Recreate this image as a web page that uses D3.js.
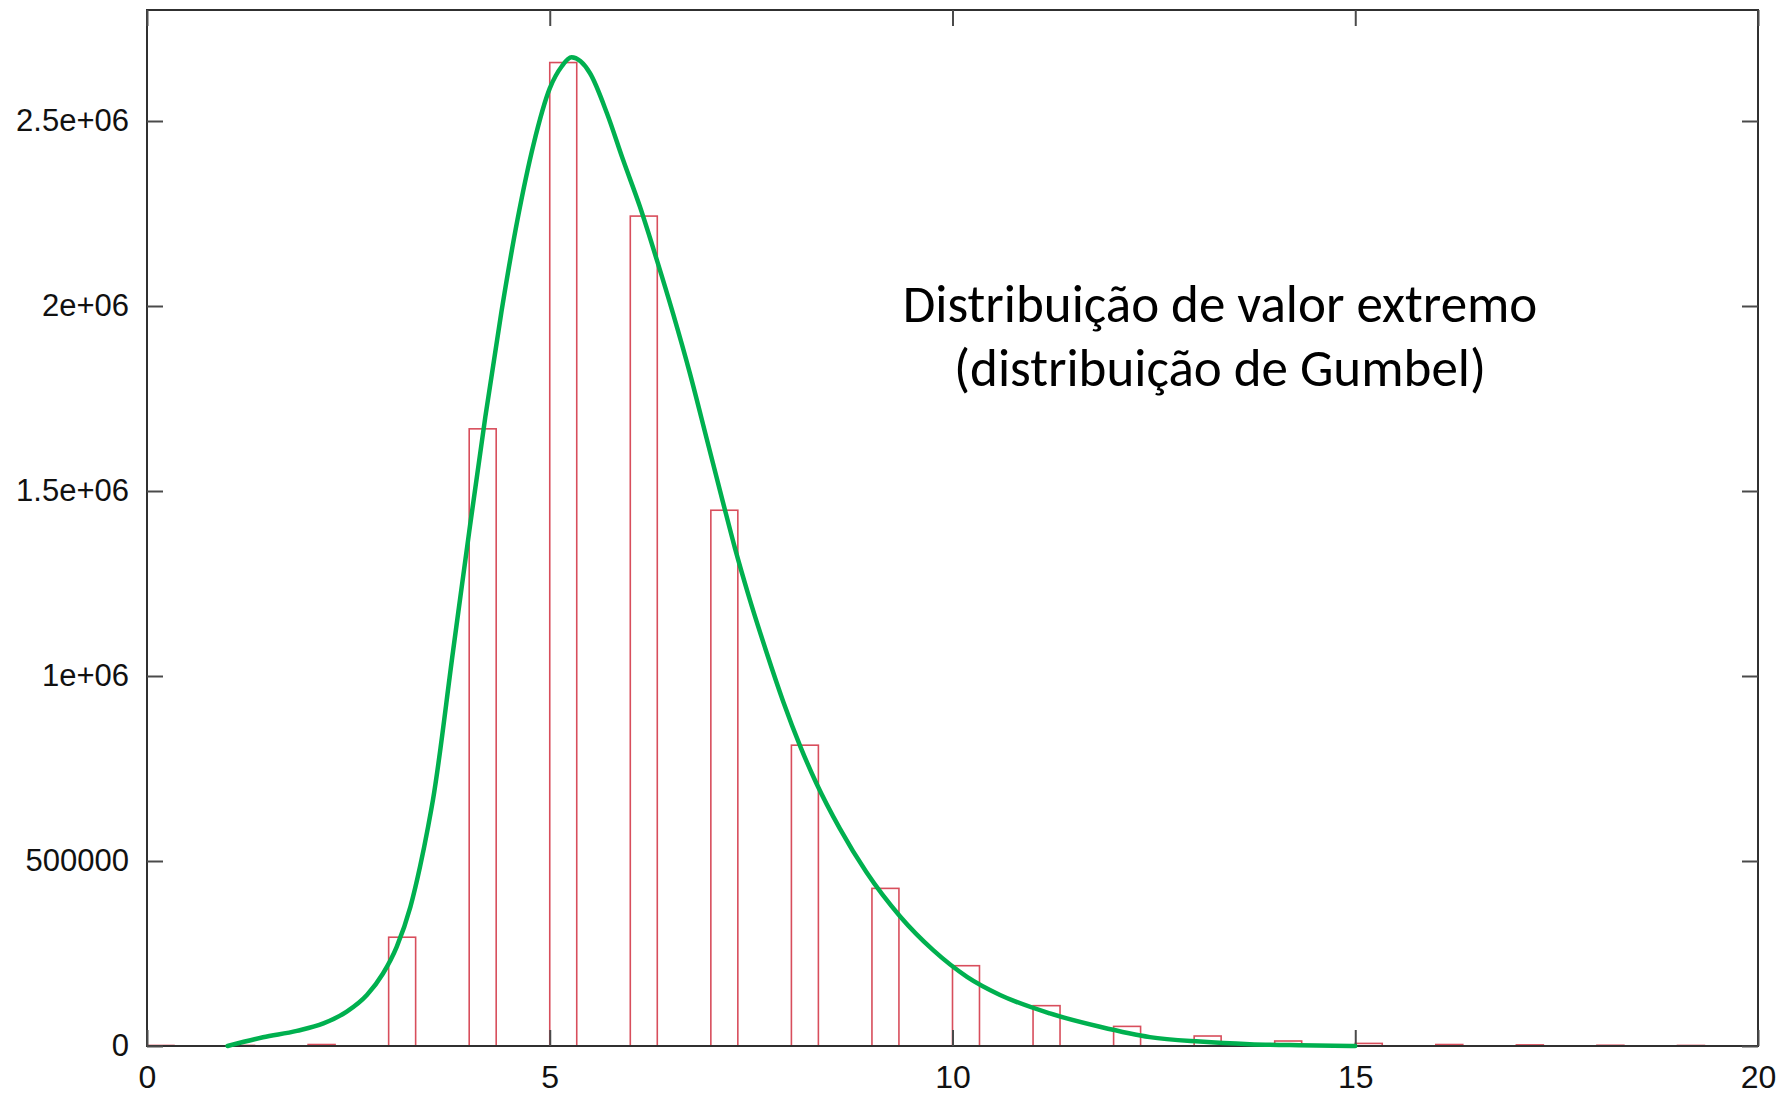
<!DOCTYPE html>
<html>
<head>
<meta charset="utf-8">
<script src="https://cdn.jsdelivr.net/npm/d3@7"></script>
<style>
  html, body { margin: 0; padding: 0; background: #ffffff; }
  svg { display: block; }
</style>
</head>
<body>
<svg id="chart" width="1790" height="1096"></svg>
<script>
// Histogram of extreme values: one box per integer bin
const binStarts = [0, 1, 2, 3, 4, 5, 6, 7, 8, 9, 10, 11, 12, 13, 14, 15, 16, 17, 18, 19];
const binCounts = [1500, 1500, 4000, 294000, 1668000, 2658000, 2243000, 1448000, 813000, 426000,
                   217000, 109000, 53000, 27000, 13500, 7000, 4000, 3000, 2000, 1500];

// Fitted Gumbel density (scaled to the counts), sampled along x
const curveX = [1.00, 1.44, 1.86, 2.19, 2.48, 2.73, 2.93, 3.10, 3.27, 3.39, 3.49, 3.55, 3.80,
                4.00, 4.20, 4.40, 4.60, 4.80, 5.00, 5.15, 5.27, 5.50, 5.71, 5.91, 6.12, 6.33, 6.53,
                6.74, 6.95, 7.15, 7.30, 7.465, 7.69, 7.90, 8.11, 8.31, 8.60, 8.93, 9.35, 9.76, 10.18,
                10.59, 11.21, 11.83, 12.45, 13.07, 13.69, 14.30, 15.00];
const curveY = [0, 23500, 41000, 61000, 93000, 138000, 196000, 268000, 376000, 485000, 593000, 665000,
                1068000, 1390000, 1700000, 1984000, 2234000, 2438000, 2588000, 2648000, 2672000,
                2629000, 2521000, 2395000, 2268000, 2124000, 1980000, 1818000, 1640000, 1470000,
                1345000, 1220000, 1065000, 930000, 810000, 710000, 588000, 470000, 350000, 259000,
                187000, 138000, 88000, 52000, 24000, 12000, 5000, 2000, 0];

// Axis ticks and their labels
const xTickValues = [0, 5, 10, 15, 20];
const xTickLabels = ["0", "5", "10", "15", "20"];
const yTickValues = [0, 500000, 1000000, 1500000, 2000000, 2500000];
const yTickLabels = ["0", "500000", "1e+06", "1.5e+06", "2e+06", "2.5e+06"];

const titleLines = ["Distribuição de valor extremo", "(distribuição de Gumbel)"];

const plot = { left: 147, right: 1758, top: 10, bottom: 1046 };
const boxWidth = 0.335;
const tickLen = 16;

const svg = d3.select("#chart");
svg.append("rect").attr("width", 1790).attr("height", 1096).attr("fill", "#ffffff");

const x = d3.scaleLinear().domain([0, 20]).range([plot.left, plot.right]);
const y = d3.scaleLinear().domain([0, 2800000]).range([plot.bottom, plot.top]);

// Histogram boxes (outlined)
svg.append("g")
  .selectAll("rect")
  .data(binStarts.map((b, i) => ({ b, v: binCounts[i] })))
  .join("rect")
  .attr("x", d => x(d.b))
  .attr("width", d => x(d.b + boxWidth) - x(d.b))
  .attr("y", d => y(d.v))
  .attr("height", d => y(0) - y(d.v))
  .attr("fill", "none")
  .attr("stroke", "#d84e5c")
  .attr("stroke-width", 1.6);

// Border frame
svg.append("rect")
  .attr("x", plot.left).attr("y", plot.top)
  .attr("width", plot.right - plot.left).attr("height", plot.bottom - plot.top)
  .attr("fill", "none").attr("stroke", "#303030").attr("stroke-width", 2);

const tickFont = "'Liberation Sans', Arial, Helvetica, sans-serif";

function styleAxis(size) {
  return g => {
    g.select(".domain").remove();
    g.selectAll(".tick line").attr("stroke", "#4a4a4a").attr("stroke-width", 2);
    g.selectAll(".tick text").attr("fill", "#111111")
      .style("font-family", tickFont).style("font-size", size + "px");
  };
}

// Left axis with labels, ticks pointing inward
svg.append("g")
  .attr("transform", `translate(${plot.left},0)`)
  .call(d3.axisLeft(y).tickValues(yTickValues)
    .tickFormat((d, i) => yTickLabels[i])
    .tickSizeInner(-tickLen).tickSizeOuter(0).tickPadding(18))
  .call(styleAxis(31));

// Right mirror ticks
svg.append("g")
  .attr("transform", `translate(${plot.right},0)`)
  .call(d3.axisRight(y).tickValues(yTickValues).tickFormat("")
    .tickSizeInner(-tickLen).tickSizeOuter(0))
  .call(styleAxis(31));

// Bottom axis with labels
svg.append("g")
  .attr("transform", `translate(0,${plot.bottom})`)
  .call(d3.axisBottom(x).tickValues(xTickValues)
    .tickFormat((d, i) => xTickLabels[i])
    .tickSizeInner(-tickLen).tickSizeOuter(0).tickPadding(19))
  .call(styleAxis(32));

// Top mirror ticks
svg.append("g")
  .attr("transform", `translate(0,${plot.top})`)
  .call(d3.axisTop(x).tickValues(xTickValues).tickFormat("")
    .tickSizeInner(-tickLen).tickSizeOuter(0))
  .call(styleAxis(32));

// Fitted density curve
const line = d3.line()
  .x(d => x(d[0]))
  .y(d => y(d[1]))
  .curve(d3.curveMonotoneX);

svg.append("path")
  .datum(curveX.map((cx, i) => [cx, curveY[i]]))
  .attr("d", line)
  .attr("fill", "none")
  .attr("stroke", "#00b04f")
  .attr("stroke-width", 4.5)
  .attr("stroke-linecap", "round")
  .attr("stroke-linejoin", "round");

// Annotation
const title = svg.append("text")
  .attr("text-anchor", "middle")
  .attr("fill", "#000000")
  .style("font-family", "Carlito, Calibri, Lato, sans-serif")
  .style("font-size", "53px");

title.selectAll("tspan")
  .data(titleLines)
  .join("tspan")
  .attr("x", 1220)
  .attr("y", (d, i) => 322 + i * 64)
  .text(d => d);
</script>
</body>
</html>
